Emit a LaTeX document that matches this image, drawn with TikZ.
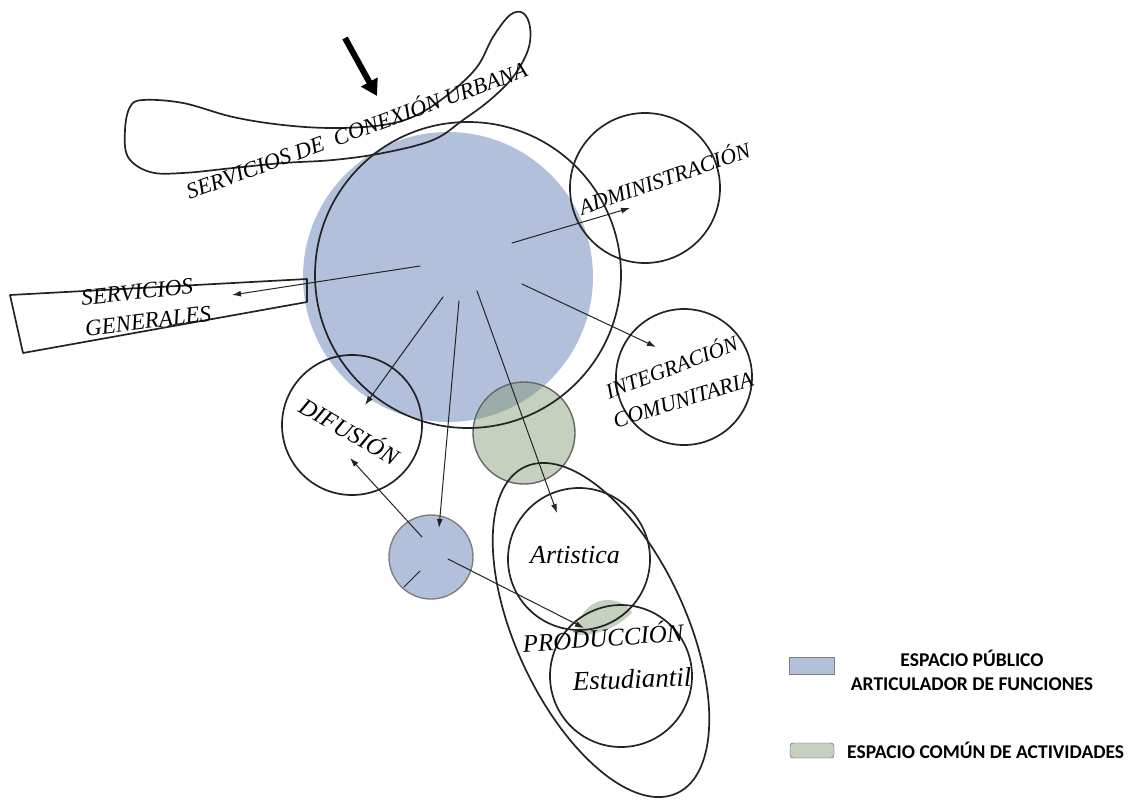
\documentclass[tikz,border=0pt]{standalone}
\usepackage{fontspec}
\newfontfamily\leyendafont{Carlito}
\newfontfamily\rotulofont{Liberation Serif}
\usetikzlibrary{arrows.meta}
\definecolor{azulpub}{RGB}{178,192,219}
\definecolor{verdecom}{RGB}{198,208,190}
\definecolor{verdeazul}{RGB}{156,172,170}
\definecolor{trazo}{RGB}{35,35,35}
\begin{document}
\begin{tikzpicture}[
    x=1pt,
    y=-1pt,
    line join=round,
    line cap=round,
    borde/.style={draw=trazo, line width=1.7pt},
    flecha/.style={draw=trazo, line width=1pt, -{Latex[length=9pt,width=6pt]}},
    rotulo/.style={font=\rotulofont\itshape\fontsize{#1}{#1}\selectfont, inner sep=0pt},
    rotulo/.default=22,
    leyenda/.style={font=\leyendafont\bfseries\fontsize{19.5}{24}\selectfont, inner sep=0pt}
]
    % marco
    \useasboundingbox (0,0) rectangle (1134,801);

    % espacio publico y espacios comunes
    \fill[azulpub] (448,277) circle (145);
    \fill[verdecom] (524,433) circle (51);
    \begin{scope}
        \clip (448,277) circle (145);
        \fill[verdeazul] (524,433) circle (51);
    \end{scope}
    \begin{scope}
        \clip (579,561) circle (74);
        \fill[verdecom] (608,630) circle (30);
    \end{scope}
    \fill[azulpub] (431,557) circle (42);
    \draw[draw=gray, line width=1.4pt] (431,557) circle (42);
    \draw[draw=gray!80!black, line width=1.4pt] (524,433) circle (51);

    % servicios de conexion urbana
    \draw[borde] plot[smooth cycle, tension=0.6] coordinates {
        (130,107) (143,100) (183,103) (233,117) (283,125) (333,128) (383,125)
        (417,115) (450,93) (477,67) (493,37) (510,15) (523,13) (530,27)
        (528,50) (513,77) (490,100) (463,120) (433,140) (383,153) (333,160)
        (283,163) (233,168) (183,173) (150,172) (128,157) (125,130)};
    \coordinate (acceso-a) at (345,38);
    \coordinate (acceso-b) at (377,96);
    \draw[line width=6pt, line cap=butt, -{Triangle[length=16pt,width=18pt]}] (acceso-a) -- (acceso-b);

    % servicios generales
    \draw[borde] (10,295) -- (307,279) -- (307,302) -- (23,353) -- cycle;

    % circulos de funciones
    \draw[borde] (468,275) circle (153);
    \draw[borde] (645,188) circle (75);
    \draw[borde] (684,377) circle (68);
    \draw[borde] (352,425) circle (70);
    \draw[borde] (579,559) circle (71);
    \draw[borde] (621,676) circle (71);
    \draw[borde, rotate around={-65:(601,630)}] (601,630) ellipse [x radius=180, y radius=85];

    % textos
    \node[rotulo=22.5, rotate=20] (urbana) at (356,129) {SERVICIOS DE\ \ CONEXIÓN URBANA};
    \node[rotulo=23, rotate=6] (serv) at (137,292) {SERVICIOS};
    \node[rotulo=23, rotate=7] (gen) at (148,321) {GENERALES};
    \node[rotulo=22, rotate=19] (adm) at (664,177) {ADMINISTRACIÓN};
    \node[rotulo=21.5, rotate=21] (integ) at (671,366) {INTEGRACIÓN};
    \node[rotulo=22, rotate=17] (comu) at (683,400) {COMUNITARIA};
    \node[rotulo=24, rotate=-30] (dif) at (350,430) {DIFUSIÓN};
    \node[rotulo=25, rotate=4] (prod) at (603,636) {PRODUCCIÓN};
    \node[rotulo=26] (art) at (575,555) {Artistica};
    \node[rotulo=27, rotate=2] (est) at (632,679) {Estudiantil};

    % flechas desde el espacio publico
    \coordinate (o-sg) at (420,266);
    \coordinate (f-sg) at (232,295);
    \coordinate (o-ad) at (512,243);
    \coordinate (f-ad) at (630,208);
    \coordinate (o-in) at (522,284);
    \coordinate (f-in) at (656,347);
    \coordinate (o-di) at (443,297);
    \coordinate (f-di) at (365,405);
    \coordinate (o-ep) at (459,301);
    \coordinate (f-ep) at (439,528);
    \coordinate (o-ar) at (477,291);
    \coordinate (f-ar) at (557,513);
    \draw[flecha] (o-sg) -- (f-sg);
    \draw[flecha] (o-ad) -- (f-ad);
    \draw[flecha] (o-in) -- (f-in);
    \draw[flecha] (o-di) -- (f-di);
    \draw[flecha] (o-ep) -- (f-ep);
    \draw[flecha] (o-ar) -- (f-ar);

    % flechas desde el espacio pequeno
    \coordinate (p-di) at (422,537);
    \coordinate (q-di) at (350,458);
    \coordinate (p-pr) at (448,559);
    \coordinate (q-pr) at (584,628);
    \coordinate (p-a) at (420,571);
    \coordinate (p-b) at (404,587);
    \draw[flecha] (p-di) -- (q-di);
    \draw[flecha] (p-pr) -- (q-pr);
    \draw[draw=trazo, line width=1pt] (p-a) -- (p-b);

    % leyenda
    \node[draw=gray, fill=azulpub, minimum width=45pt, minimum height=17pt, inner sep=0pt] (caja-pub) at (811.5,665.5) {};
    \node[draw=gray!60!black, fill=verdecom, rounded corners=3pt, minimum width=44pt, minimum height=15pt, inner sep=0pt] (caja-com) at (812,750.5) {};
    \node[leyenda, align=center] (txt-pub) at (972,670) {ESPACIO PÚBLICO\\ARTICULADOR DE FUNCIONES};
    \node[leyenda, anchor=west] (txt-com) at (847,750) {ESPACIO COMÚN DE ACTIVIDADES};
\end{tikzpicture}
\end{document}
